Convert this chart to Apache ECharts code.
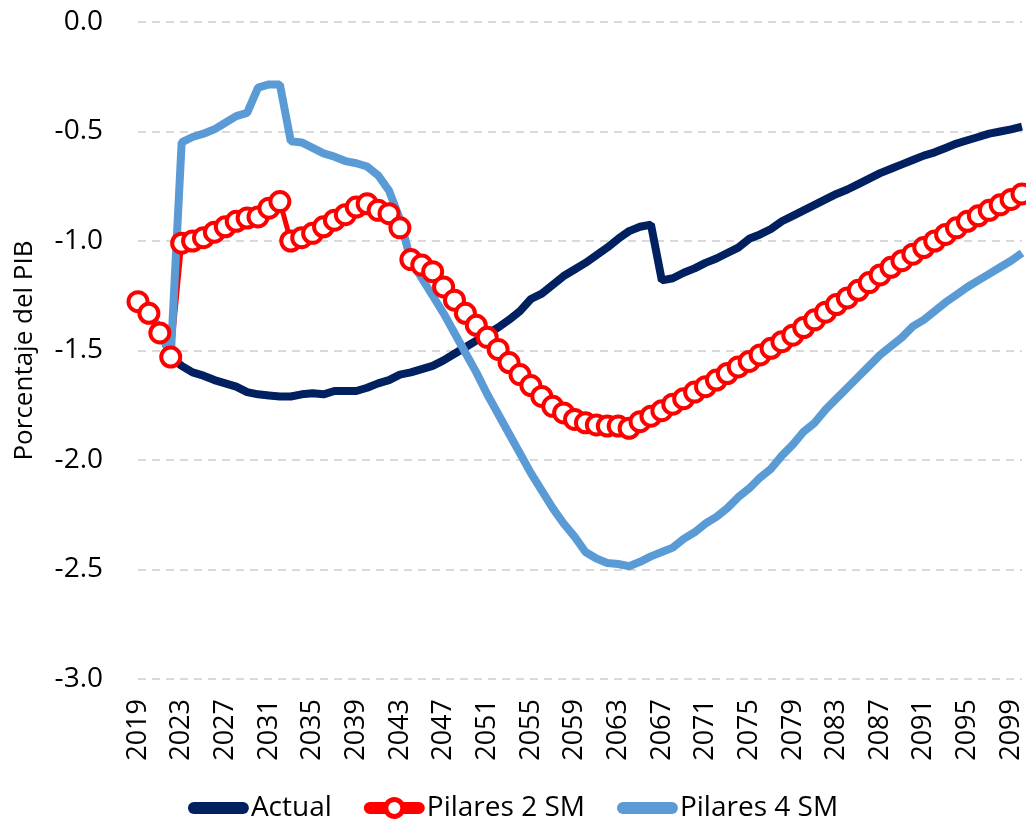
<!DOCTYPE html>
<html lang="es">
<head>
    <meta charset="UTF-8">
    <title>Porcentaje del PIB</title>
    <style>
        * {
            margin: 0;
            padding: 0;
        }

        .main {
            width: 1026px;
            height: 824px;
            background: #fff;
        }
    </style>
</head>
<body>
<div id="main" class="main"></div>
<script src="https://cdn.jsdelivr.net/npm/echarts@6/dist/echarts.min.js"></script>
<script>
    var years = [
        '2019', '2020', '2021', '2022', '2023', '2024', '2025', '2026', '2027', '2028',
        '2029', '2030', '2031', '2032', '2033', '2034', '2035', '2036', '2037', '2038',
        '2039', '2040', '2041', '2042', '2043', '2044', '2045', '2046', '2047', '2048',
        '2049', '2050', '2051', '2052', '2053', '2054', '2055', '2056', '2057', '2058',
        '2059', '2060', '2061', '2062', '2063', '2064', '2065', '2066', '2067', '2068',
        '2069', '2070', '2071', '2072', '2073', '2074', '2075', '2076', '2077', '2078',
        '2079', '2080', '2081', '2082', '2083', '2084', '2085', '2086', '2087', '2088',
        '2089', '2090', '2091', '2092', '2093', '2094', '2095', '2096', '2097', '2098',
        '2099', '2100'
    ];

    // Actual
    var actual = [
        -1.28, -1.33, -1.40, -1.53, -1.57, -1.60, -1.615, -1.635, -1.65, -1.665,
        -1.69, -1.70, -1.705, -1.71, -1.71, -1.70, -1.695, -1.70, -1.685, -1.685,
        -1.685, -1.67, -1.65, -1.635, -1.61, -1.60, -1.585, -1.57, -1.545, -1.515,
        -1.485, -1.455, -1.425, -1.395, -1.36, -1.32, -1.265, -1.24, -1.20, -1.16,
        -1.13, -1.10, -1.065, -1.03, -0.99, -0.955, -0.935, -0.925, -1.18, -1.17,
        -1.145, -1.125, -1.10, -1.08, -1.055, -1.03, -0.99, -0.97, -0.945, -0.91,
        -0.885, -0.86, -0.835, -0.81, -0.785, -0.765, -0.74, -0.715, -0.69, -0.67,
        -0.65, -0.63, -0.61, -0.595, -0.575, -0.555, -0.54, -0.525, -0.51, -0.50,
        -0.49, -0.478
    ];

    // Pilares 2 SM
    var pilares2 = [
        -1.277, -1.33, -1.42, -1.53, -1.01, -1.00, -0.985, -0.96, -0.935, -0.91,
        -0.895, -0.89, -0.85, -0.82, -1.00, -0.985, -0.965, -0.935, -0.905, -0.88,
        -0.845, -0.83, -0.86, -0.875, -0.94, -1.085, -1.11, -1.14, -1.21, -1.27,
        -1.33, -1.385, -1.44, -1.495, -1.555, -1.61, -1.66, -1.71, -1.755, -1.785,
        -1.815, -1.83, -1.84, -1.845, -1.845, -1.855, -1.825, -1.80, -1.775, -1.745,
        -1.72, -1.69, -1.665, -1.635, -1.605, -1.575, -1.55, -1.52, -1.49, -1.46,
        -1.43, -1.395, -1.36, -1.325, -1.29, -1.26, -1.225, -1.19, -1.155, -1.12,
        -1.09, -1.06, -1.03, -1.00, -0.97, -0.94, -0.91, -0.885, -0.86, -0.835,
        -0.81, -0.785
    ];

    // Pilares 4 SM
    var pilares4 = [
        -1.28, -1.33, -1.40, -1.53, -0.55, -0.525, -0.51, -0.49, -0.46, -0.43,
        -0.415, -0.30, -0.285, -0.285, -0.545, -0.55, -0.575, -0.60, -0.615, -0.635,
        -0.645, -0.66, -0.70, -0.77, -0.90, -1.09, -1.17, -1.25, -1.33, -1.42,
        -1.51, -1.60, -1.70, -1.79, -1.88, -1.97, -2.06, -2.14, -2.22, -2.29,
        -2.35, -2.42, -2.45, -2.47, -2.475, -2.485, -2.465, -2.44, -2.42, -2.40,
        -2.36, -2.33, -2.29, -2.26, -2.22, -2.17, -2.13, -2.08, -2.04, -1.98,
        -1.93, -1.87, -1.83, -1.77, -1.72, -1.67, -1.62, -1.57, -1.52, -1.48,
        -1.44, -1.39, -1.36, -1.32, -1.28, -1.245, -1.21, -1.18, -1.15, -1.12,
        -1.09, -1.055
    ];

    // iconos de la leyenda: barra redondeada, y barra con circulo hueco
    var barIcon = 'path://M6,-6 L55,-6 A6,6 0 0 1 55,6 L6,6 A6,6 0 0 1 6,-6 Z';
    var ringIcon = 'path://M6,-6 L21.28,-6 A11,11 0 0 1 39.72,-6 L55,-6 A6,6 0 0 1 55,6 ' +
        'L39.72,6 A11,11 0 0 1 21.28,6 L6,6 A6,6 0 0 1 6,-6 Z ' +
        'M36.5,0 A6,6 0 1 0 24.5,0 A6,6 0 1 0 36.5,0 Z';

    var myChart = echarts.init(document.getElementById('main'), null, {renderer: 'canvas'});

    myChart.setOption({
        animation: false,
        textStyle: {
            fontFamily: 'Open Sans',
            color: '#000'
        },
        grid: {
            left: 138,
            right: 4,
            top: 22,
            bottom: 145
        },
        legend: {
            top: 794,
            left: 'center',
            padding: 0,
            itemWidth: 61,
            itemHeight: 22,
            itemGap: 32,
            textStyle: {
                fontSize: 28,
                color: '#000',
                padding: [0, 0, 0, -3]
            },
            data: [
                {name: 'Actual', icon: barIcon},
                {name: 'Pilares 2 SM', icon: ringIcon, itemStyle: {color: '#ff0000', borderWidth: 0}},
                {name: 'Pilares 4 SM', icon: barIcon}
            ]
        },
        xAxis: {
            type: 'category',
            data: years,
            boundaryGap: false,
            axisLine: {show: false},
            axisTick: {show: false},
            axisLabel: {
                interval: 3,
                rotate: 90,
                fontSize: 27,
                color: '#000',
                margin: 20
            }
        },
        yAxis: {
            type: 'value',
            min: -3,
            max: 0,
            interval: 0.5,
            name: 'Porcentaje del PIB',
            nameLocation: 'middle',
            nameGap: 100,
            nameTextStyle: {
                fontSize: 26,
                color: '#000'
            },
            axisLine: {show: false},
            axisTick: {show: false},
            axisLabel: {
                fontSize: 28,
                color: '#000',
                margin: 35,
                formatter: function (v) {
                    return v.toFixed(1);
                }
            },
            splitLine: {
                lineStyle: {
                    color: '#d9d9d9',
                    width: 2,
                    type: [8, 6]
                }
            }
        },
        series: [{
            name: 'Actual',
            type: 'line',
            data: actual,
            symbol: 'none',
            color: '#002060',
            lineStyle: {width: 8, color: '#002060'}
        }, {
            name: 'Pilares 2 SM',
            type: 'line',
            data: pilares2,
            symbol: 'circle',
            symbolSize: 19,
            showAllSymbol: true,
            color: '#ff0000',
            itemStyle: {color: '#fff', borderColor: '#ff0000', borderWidth: 4},
            lineStyle: {width: 5, color: '#ff0000'}
        }, {
            name: 'Pilares 4 SM',
            type: 'line',
            data: pilares4,
            symbol: 'none',
            color: '#5b9bd5',
            lineStyle: {width: 8, color: '#5b9bd5'}
        }]
    });
</script>
</body>
</html>
